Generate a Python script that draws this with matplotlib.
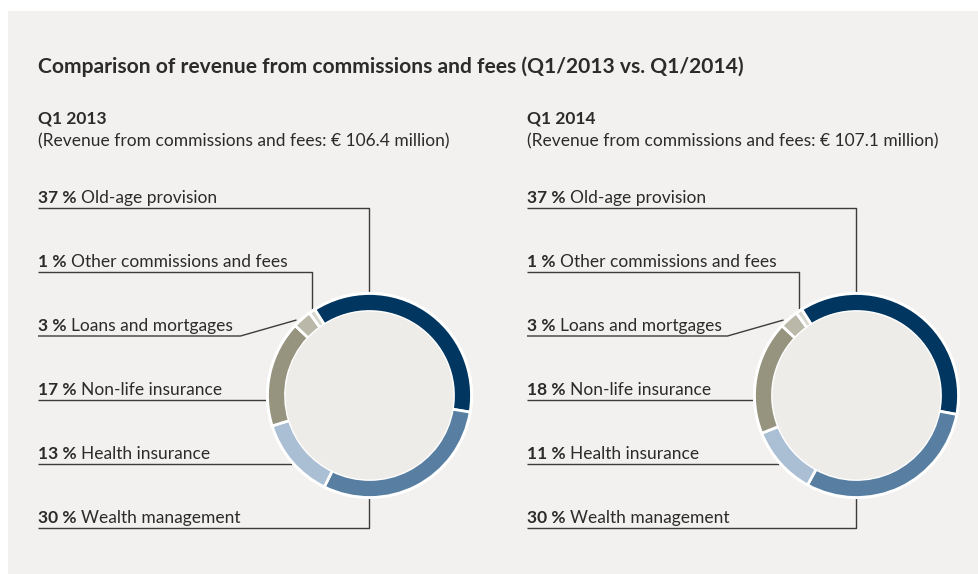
import matplotlib.pyplot as plt
from matplotlib.patches import Rectangle, Circle

plt.rcParams["font.family"] = ["Lato", "DejaVu Sans"]

# data (pie order, clockwise from the top-left)
categories = ["Old-age provision", "Wealth management", "Health insurance",
              "Non-life insurance", "Loans and mortgages", "Other commissions and fees"]
share_2013 = [37, 30, 13, 17, 3, 1]
share_2014 = [37, 30, 11, 18, 3, 1]
revenue = [106.4, 107.1]
years = ["Q1 2013", "Q1 2014"]

# order of the labels from top to bottom
label_order = [0, 5, 4, 3, 2, 1]

COLORS = ["#003660", "#587FA1", "#AABED4", "#96937F", "#BAB8A8", "#D9D8CF"]
BG = "#F2F1EF"
INNER = "#EDECE9"
LINE = "#3c3c3c"
TXT = "#2b2b2b"
FS = 12.5

W, H = 979, 574
fig = plt.figure(figsize=(W / 100, H / 100), dpi=100)
ax = fig.add_axes([0, 0, 1, 1])


def Y(y):
    # pixel row (from top) -> data y
    return H - y


ax.add_patch(Rectangle((8, Y(574)), W - 8, 574 - 11, facecolor=BG, edgecolor="none", zorder=0))

ax.text(38, Y(73), "Comparison of revenue from commissions and fees (Q1/2013 vs. Q1/2014)",
        fontsize=15.1, fontweight="bold", color=TXT, va="baseline", ha="left")

R = 102
WIDTH = 18
rows = [208, 272, 336, 400, 464, 528]

for i, (vals, yr, rev) in enumerate(zip([share_2013, share_2014], years, revenue)):
    x0 = 38 + i * 489
    cx = 369.5 + i * 487
    cy = Y(395.5)

    ax.text(x0, Y(123), yr, fontsize=FS, fontweight="bold", color=TXT, va="baseline")
    ax.text(x0, Y(146), f"(Revenue from commissions and fees: \u20ac {rev} million)",
            fontsize=FS, color=TXT, va="baseline")

    ax.pie(vals, colors=COLORS, startangle=122.5, counterclock=False, radius=R, center=(cx, cy),
           wedgeprops=dict(width=WIDTH, edgecolor="white", linewidth=2), frame=True)
    ax.add_patch(Circle((cx, cy), R - WIDTH, facecolor=INNER, edgecolor="none", zorder=1))
    ax.add_patch(Circle((cx, cy), R + 0.5, facecolor="none", edgecolor="white", lw=1.5, zorder=3))

    # labels and leader lines
    for k, ry in zip(label_order, rows):
        t1 = ax.text(x0, Y(ry - 2), f"{vals[k]} %", fontsize=FS, fontweight="bold",
                     color=TXT, va="bottom")
        ax.annotate(categories[k], xy=(1, 0), xycoords=t1, xytext=(3, 0), textcoords="offset points",
                    fontsize=FS, color=TXT, va="bottom", ha="left")

    paths = [
        [(x0, 208), (cx, 208), (cx, 293)],
        [(x0, 272), (cx - 57.5, 272), (cx - 57.5, 309)],
        [(x0, 336), (cx - 129, 336), (cx - 73, 320)],
        [(x0, 400), (cx - 102, 400)],
        [(x0, 464), (cx - 77, 464)],
        [(x0, 528), (cx, 528), (cx, 498)],
    ]
    for p in paths:
        ax.plot([q[0] for q in p], [Y(q[1]) for q in p], color=LINE, lw=1, zorder=0.5,
                solid_capstyle="butt")

ax.set_xlim(0, W)
ax.set_ylim(0, H)
ax.set_aspect("auto")
ax.axis("off")

fig.savefig("out.png", dpi=100, facecolor="white")
